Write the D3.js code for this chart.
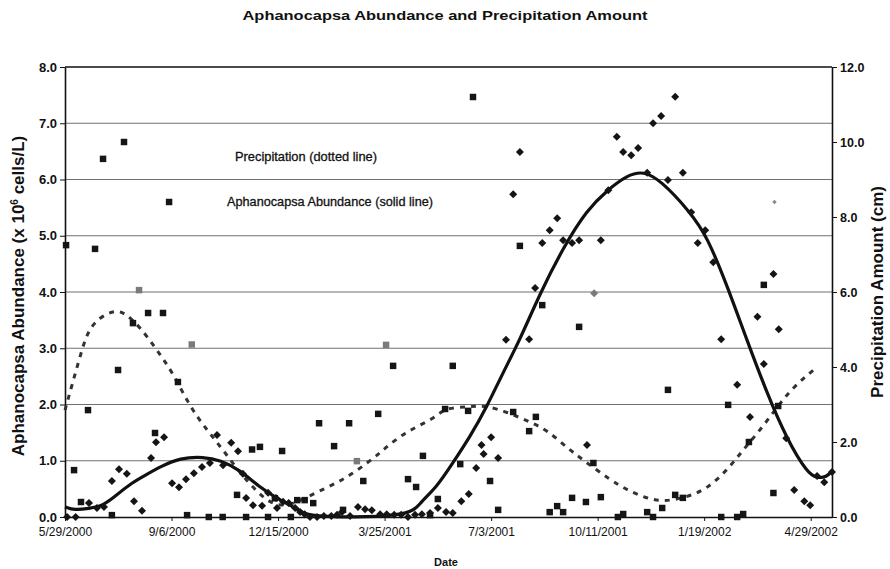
<!DOCTYPE html>
<html>
<head>
<meta charset="utf-8">
<script src="https://cdn.jsdelivr.net/npm/d3@7"></script>
<style>
body { margin: 0; background: #fff; }
text { font-family: "Liberation Sans", Arial, sans-serif; fill: #111; }
</style>
</head>
<body>
<div class="chart"></div>
<script>
// x values are days after 5/29/2000
var startLabel = "5/29/2000";
var dateTicks = ["5/29/2000", "9/6/2000", "12/15/2000", "3/25/2001", "7/3/2001", "10/11/2001", "1/19/2002", "4/29/2002"];
var leftTicks = [0, 1, 2, 3, 4, 5, 6, 7, 8];
var rightTicks = [0, 2, 4, 6, 8, 10, 12];

// precipitation (cm), squares, right axis
var precipDay = [1, 8.5, 15, 21.6, 28.2, 35.7, 44, 49.8, 55.4, 63.8, 69.5, 78, 84.5, 92, 97.7, 106, 114.6, 119, 135, 148,
  161.5, 170, 175.6, 183, 190.6, 197, 203.8, 212, 218, 225, 233, 238.5, 252.6, 261, 266.7, 274, 280, 294, 301.4, 308,
  322, 329.6, 336, 342.7, 350, 356.8, 364, 371, 378.4, 383, 399, 406.6, 420.7, 427, 435.7, 442, 448, 455, 462, 467.6,
  476, 482.6, 489, 496, 503, 519, 524, 546.5, 552, 560.6, 566, 572.8, 580, 616, 622.5, 631, 636.6, 642, 656, 665, 669.5];
var precipVal = [7.25, 1.25, 0.4, 2.85, 7.15, 9.55, 0.05, 3.92, 10.0, 5.17, 6.05, 5.44, 2.24, 5.44, 8.4, 3.6, 0.05, 4.6, 0, 0,
  0.59, 0, 1.8, 1.87, 0, 0.5, 1.76, 0, 0.45, 0.45, 0.37, 2.5, 1.89, 0.19, 2.5, 1.49, 0.96, 2.75, 4.59, 4.03,
  1.01, 0.8, 1.63, 0.05, 0.48, 2.88, 4.03, 1.41, 2.83, 11.2, 0.96, 0.19, 2.8, 7.23, 2.29, 2.67, 5.65, 0.13, 0.29, 0.13,
  0.51, 5.07, 0.4, 1.44, 0.53, 0, 0.08, 0.13, 0, 0.24, 3.39, 0.59, 0.51, 0, 2.99, 0, 0.08, 2.0, 6.19, 0.64, 2.96];
var precipGrey = [69.5, 119, 274, 301.4];

// Aphanocapsa abundance (x 10^6 cells/L), diamonds, left axis
var abundDay = [2, 10, 22.5, 30, 36.6, 44, 50.7, 58, 64.8, 72.3, 80.8, 85.4, 93, 100.5, 107, 113.6, 121, 128.6, 136, 142.7,
  148.4, 156, 162.4, 167, 170, 176.5, 185, 190.6, 198, 199, 204.7, 210, 216, 220.7, 225, 230, 236.6, 243, 250, 255.4,
  260, 267.6, 275, 281.7, 288, 295.8, 302, 309, 315.5, 322, 328.6, 335, 342.7, 350, 357.7, 364, 372, 379, 386, 391,
  393, 400, 406.6, 414, 420.7, 427, 435.7, 441.3, 448, 455, 462, 467.6, 476, 482.6, 490, 496.7, 503, 510, 518, 524,
  531.5, 538, 546.5, 552, 559.6, 566, 572.8, 580, 587.8, 594, 601, 608.5, 616, 631, 643, 650, 656, 665, 666, 670,
  677, 684.5, 694, 699.5, 706, 712.7, 720];
var abundVal = [0, 0, 0.25, 0.16, 0.18, 0.64, 0.85, 0.77, 0.28, 0.11, 1.05, 1.33, 1.42, 0.6, 0.53, 0.67, 0.78, 0.89, 0.96, 1.46,
  0.92, 1.32, 1.17, 0.77, 0.34, 0.21, 0.2, 0.43, 0.34, 0.16, 0.27, 0.25, 0.16, 0.09, 0.05, 0, 0, 0.02, 0.02, 0.04,
  0.09, 0.02, 0.18, 0.14, 0.12, 0.05, 0.05, 0.04, 0.04, 0, 0.04, 0.05, 0.07, 0.16, 0.09, 0.07, 0.28, 0.41, 0.87, 1.28,
  1.12, 1.42, 1.05, 3.15, 5.74, 6.49, 3.16, 4.07, 4.87, 5.1, 5.31, 4.92, 4.87, 4.92, 1.28, 3.98, 4.92, 5.81, 6.76, 6.49,
  6.43, 6.56, 6.12, 7.0, 7.13, 5.99, 7.47, 6.12, 5.42, 4.87, 5.1, 4.53, 3.16, 2.35, 1.78, 3.56, 2.72, 4.32, 5.6, 3.34,
  1.4, 0.48, 0.28, 0.21, 0.73, 0.62, 0.8];
var abundGrey = [496.7];
var abundFaint = [666];

// trend lines
var abundTrendDay = [0, 9, 22, 36, 49, 62, 76, 90, 108, 130, 146, 164, 183, 202, 214, 224, 233, 324, 333, 349, 364, 380, 396,
  411, 427, 446, 468, 490, 509, 528, 543, 559, 587, 603, 622, 640, 659, 678, 697, 706, 715, 720];
var abundTrendVal = [0.18, 0.12, 0.15, 0.2, 0.4, 0.6, 0.75, 0.9, 1.05, 1.07, 1.01, 0.84, 0.52, 0.3, 0.18, 0.07, 0, 0, 0.25, 0.53,
  0.96, 1.42, 1.96, 2.56, 3.15, 3.98, 4.8, 5.46, 5.81, 6.08, 6.15, 5.99, 5.42, 4.98, 4.09, 3.15, 2.2, 1.37, 0.78, 0.69, 0.71, 0.82];
var precipTrendDay = [0, 6.6, 14, 21.6, 32.9, 47, 56.3, 70.4, 86.4, 101.4, 117.4, 133.3, 148.4, 164.3, 180.3, 195, 211, 234.7,
  255.4, 269.5, 283.6, 295.8, 305.2, 319.2, 333.3, 349.3, 356.8, 377.5, 392.5, 415, 436.6, 452.6, 471.4, 486.4, 511.7,
  527.7, 544.6, 561.5, 584, 602.8, 621.6, 636.6, 652.6, 668.5, 683.6, 706];
var precipTrendVal = [2.85, 3.52, 4.27, 4.99, 5.33, 5.52, 5.44, 5.07, 4.45, 3.84, 2.93, 2.32, 1.79, 1.17, 0.67, 0.32, 0.29, 0.64,
  0.91, 1.15, 1.44, 1.71, 1.95, 2.24, 2.45, 2.69, 2.91, 2.93, 2.99, 2.8, 2.53, 2.32, 1.84, 1.52, 0.99,
  0.72, 0.51, 0.4, 0.53, 0.75, 1.25, 1.79, 2.32, 2.93, 3.47, 4.0];

var width = 890;
var height = 569;
var margin = {left: 65, right: 58, top: 67, bottom: 52};

var parseDate = d3.timeParse("%m/%d/%Y");
var start = parseDate(startLabel);
function dayToDate(d) { return new Date(start.getTime() + d * 864e5); }

var svg = d3.select(".chart").append("svg").attr("width", width).attr("height", height);

var x = d3.scaleTime()
  .domain([start, dayToDate(720)])
  .range([margin.left, width - margin.right]);
var yLeft = d3.scaleLinear().domain([0, 8]).range([height - margin.bottom, margin.top]);
var yRight = d3.scaleLinear().domain([0, 12]).range([height - margin.bottom, margin.top]);

//gridlines
svg.append("g").selectAll("line")
  .data(leftTicks.filter(function(d){ return d > 0 && d < 8; }))
  .enter().append("line")
  .attr("x1", margin.left).attr("x2", width - margin.right)
  .attr("y1", function(d){ return yLeft(d); }).attr("y2", function(d){ return yLeft(d); })
  .attr("stroke", "#707070").attr("stroke-width", 1.1);

//top border
svg.append("line")
  .attr("x1", margin.left).attr("x2", width - margin.right)
  .attr("y1", margin.top).attr("y2", margin.top)
  .attr("stroke", "#111").attr("stroke-width", 1.5);

//axes
var xAxis = d3.axisBottom(x)
  .tickValues(dateTicks.map(parseDate))
  .tickFormat(function(d, i){ return dateTicks[i]; })
  .tickSize(4).tickSizeOuter(0).tickPadding(6);
var leftAxis = d3.axisLeft(yLeft).tickValues(leftTicks).tickFormat(d3.format(".1f"))
  .tickSize(5).tickSizeOuter(0).tickPadding(3);
var rightAxis = d3.axisRight(yRight).tickValues(rightTicks).tickFormat(d3.format(".1f"))
  .tickSize(5).tickSizeOuter(0).tickPadding(3);

var gx = svg.append("g").attr("transform", "translate(0," + (height - margin.bottom) + ")").call(xAxis);
gx.selectAll("text").style("font-size", "12px");
var gl = svg.append("g").attr("transform", "translate(" + margin.left + ",0)").call(leftAxis);
gl.selectAll("text").style("font-size", "13px").style("font-weight", "bold");
var gr = svg.append("g").attr("transform", "translate(" + (width - margin.right) + ",0)").call(rightAxis);
gr.selectAll("text").style("font-size", "12.5px").style("font-weight", "bold");
svg.selectAll(".domain").attr("stroke", "#111").attr("stroke-width", 1.6);
svg.selectAll(".tick line").attr("stroke", "#111");
svg.selectAll(".tick text").style("fill", "#111");

//trend lines
var abundLine = d3.line()
  .x(function(d){ return x(dayToDate(d[0])); })
  .y(function(d){ return yLeft(d[1]); })
  .curve(d3.curveBasis);
var precipLine = d3.line()
  .x(function(d){ return x(dayToDate(d[0])); })
  .y(function(d){ return yRight(d[1]); })
  .curve(d3.curveBasis);

svg.append("path")
  .attr("fill", "none").attr("stroke", "#333").attr("stroke-width", 3)
  .attr("stroke-dasharray", "5,6")
  .attr("d", precipLine(d3.zip(precipTrendDay, precipTrendVal)));

svg.append("path")
  .attr("fill", "none").attr("stroke", "#111").attr("stroke-width", 3.2)
  .attr("d", abundLine(d3.zip(abundTrendDay, abundTrendVal)));

//markers
var square = d3.symbol().type(d3.symbolSquare).size(42);
var diamond = d3.symbol().type(d3.symbolSquare).size(32);
var faint = d3.symbol().type(d3.symbolSquare).size(10);

svg.append("g").selectAll("path")
  .data(d3.zip(precipDay, precipVal))
  .enter().append("path")
  .attr("d", square)
  .attr("transform", function(d){ return "translate(" + x(dayToDate(d[0])) + "," + yRight(d[1]) + ")"; })
  .attr("fill", function(d){ return precipGrey.indexOf(d[0]) >= 0 ? "#7a7a7a" : "#151515"; });

svg.append("g").selectAll("path")
  .data(d3.zip(abundDay, abundVal))
  .enter().append("path")
  .attr("d", function(d){ return abundFaint.indexOf(d[0]) >= 0 ? faint() : diamond(); })
  .attr("transform", function(d){ return "translate(" + x(dayToDate(d[0])) + "," + yLeft(d[1]) + ") rotate(45)"; })
  .attr("fill", function(d){
    if (abundFaint.indexOf(d[0]) >= 0) return "#888";
    return abundGrey.indexOf(d[0]) >= 0 ? "#7a7a7a" : "#151515";
  });

//notes inside the plot
svg.append("text").attr("x", 235).attr("y", 161)
  .attr("textLength", 142).attr("lengthAdjust", "spacingAndGlyphs")
  .style("font-size", "12.5px").style("stroke", "#111").style("stroke-width", 0.3)
  .text("Precipitation (dotted line)");
svg.append("text").attr("x", 227).attr("y", 206)
  .attr("textLength", 206).attr("lengthAdjust", "spacingAndGlyphs")
  .style("font-size", "12.5px").style("stroke", "#111").style("stroke-width", 0.3)
  .text("Aphanocapsa Abundance (solid line)");

//title
svg.append("text").attr("x", 445).attr("y", 20)
  .attr("text-anchor", "middle")
  .attr("textLength", 405).attr("lengthAdjust", "spacingAndGlyphs")
  .style("font-size", "13px").style("font-weight", "bold")
  .text("Aphanocapsa Abundance and Precipitation Amount");

//axis titles
var leftTitle = svg.append("text")
  .attr("transform", "translate(24,296) rotate(-90)")
  .style("text-anchor", "middle").style("font-size", "17px").style("font-weight", "bold");
leftTitle.append("tspan").text("Aphanocapsa Abundance (x 10");
leftTitle.append("tspan").attr("dy", "-6").style("font-size", "10px").text("6");
leftTitle.append("tspan").attr("dy", "6").text(" cells/L)");

svg.append("text")
  .attr("transform", "translate(883,292) rotate(-90)")
  .style("text-anchor", "middle").style("font-size", "17px").style("font-weight", "bold")
  .text("Precipitation Amount (cm)");

svg.append("text").attr("x", 446).attr("y", 566)
  .style("text-anchor", "middle").style("font-size", "11px").style("font-weight", "bold")
  .text("Date");
</script>
</body>
</html>
